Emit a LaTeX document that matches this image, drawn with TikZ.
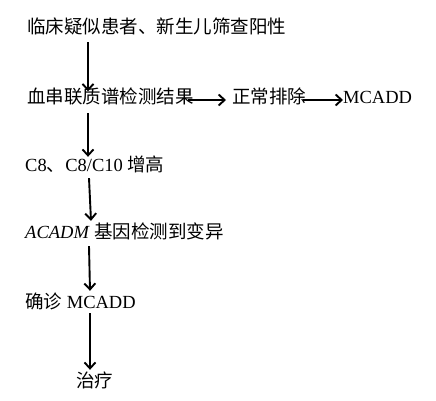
\documentclass[tikz,border=0pt]{standalone}
\usepackage{fontspec}
\setmainfont{Liberation Serif}
\newfontfamily\cjk{Noto Sans CJK SC}
\usetikzlibrary{arrows.meta}
\tikzset{
  lbl/.style={anchor=west, inner sep=0pt, text height=12pt, text depth=3pt, font=\fontsize{18.5}{22}\selectfont},
  arr/.style={line width=1.9pt, -{Straight Barb[length=6pt,width=11pt]}}
}
\begin{document}
\begin{tikzpicture}[x=1pt,y=-1pt]
\useasboundingbox[fill=white] (0,0) rectangle (436,401);
\node[lbl] (n1) at (27,29) {\cjk 临床疑似患者、新生儿筛查阳性};
\node[lbl] (n2) at (27,99) {\cjk 血串联质谱检测结果};
\node[lbl] (n2b) at (232,99) {\cjk 正常排除};
\node[lbl] (n2c) at (343,99) {MCADD};
\node[lbl] (n3) at (25,167) {C8{\cjk 、}C8/C10 {\cjk 增高}};
\node[lbl] (n4) at (25,234) {\textit{ACADM} {\cjk 基因检测到变异}};
\node[lbl] (n5) at (25,304) {{\cjk 确诊} MCADD};
\node[lbl] (n6) at (76,383) {\cjk 治疗};
\draw[arr] ([xshift=61pt,yshift=-5.5pt]n1.south west) -- ([xshift=61pt]n2.north west);
\draw[arr] ([xshift=61pt,yshift=-6.5pt]n2.south west) -- ([xshift=63pt,yshift=2.5pt]n3.north west);
\draw[arr] ([xshift=64pt,yshift=-3.5pt]n3.south west) -- ([xshift=66pt,yshift=5.5pt]n4.north west);
\draw[arr] ([xshift=64pt,yshift=-4.5pt]n4.south west) -- ([xshift=65pt,yshift=5.5pt]n5.north west);
\draw[arr] ([xshift=65pt,yshift=-1.5pt]n5.south west) -- ([xshift=14pt,yshift=5.5pt]n6.north west);
\draw[arr] ([xshift=161pt,yshift=-1pt]n2.west) -- ([xshift=-6pt,yshift=-1pt]n2b.west);
\draw[arr] ([xshift=71pt,yshift=-1pt]n2b.west) -- ([yshift=-1pt]n2c.west);
\end{tikzpicture}
\end{document}
